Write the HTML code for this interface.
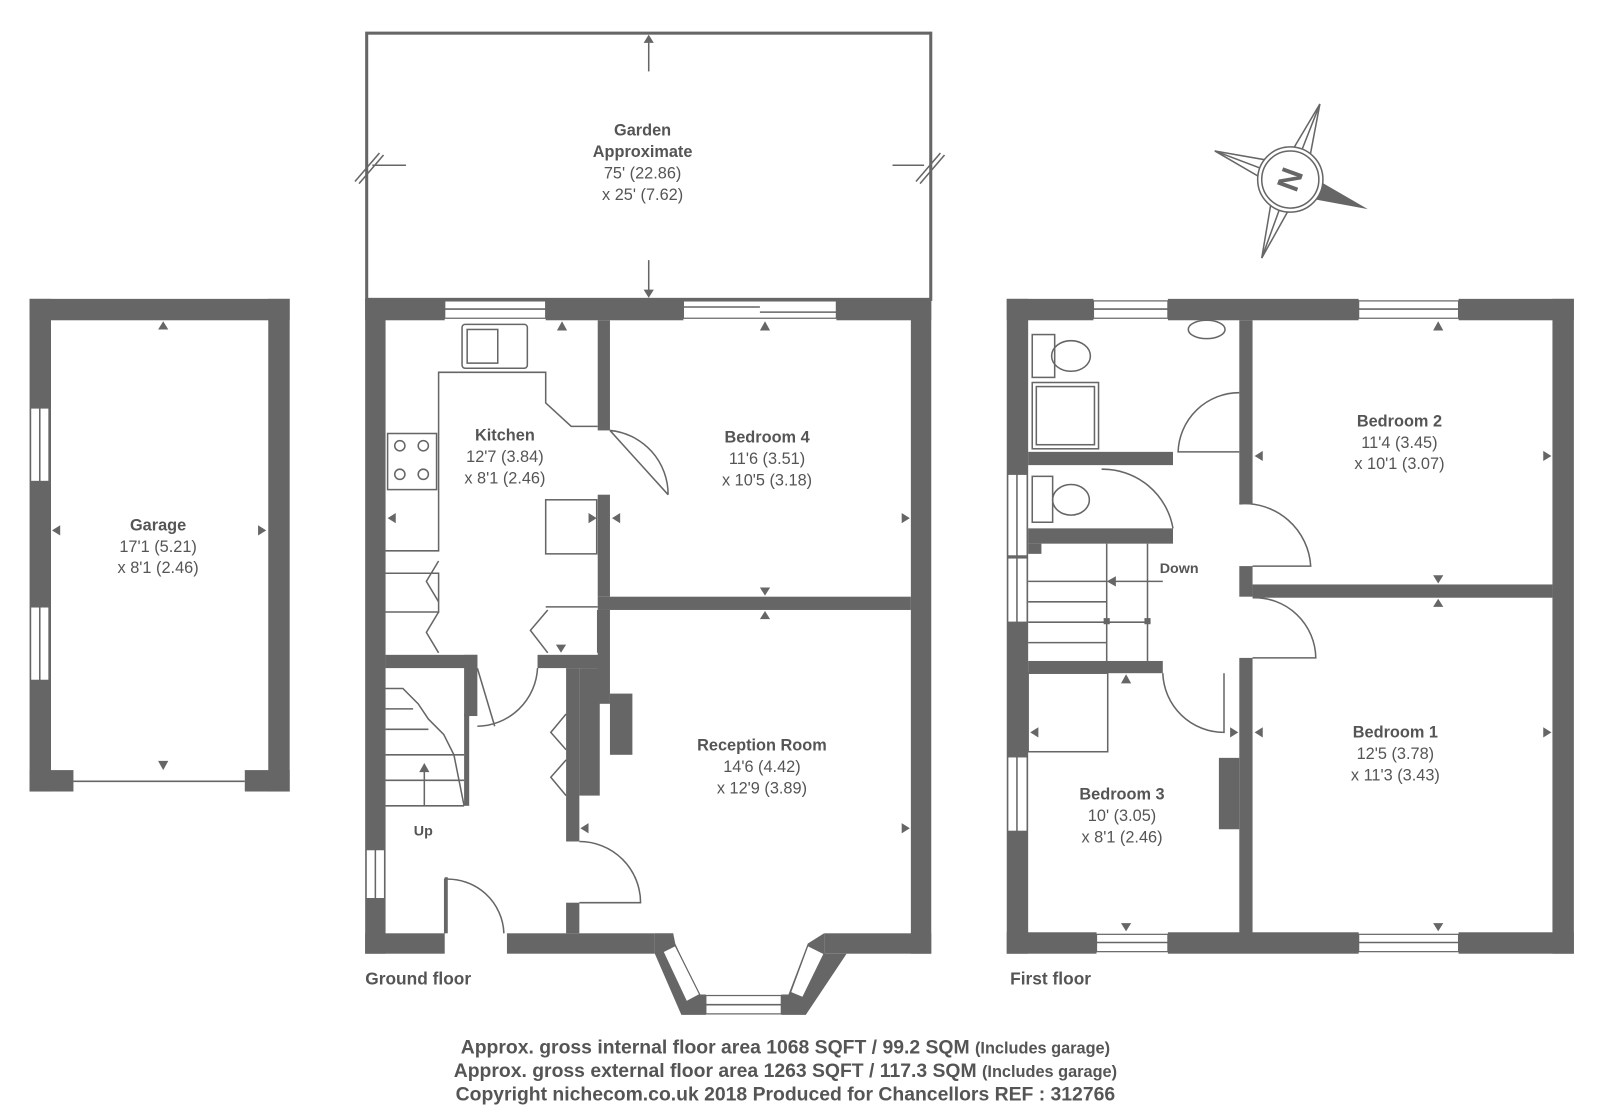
<!DOCTYPE html>
<html><head><meta charset="utf-8"><style>
html,body{margin:0;padding:0;background:#fff;}
svg{display:block}
text{font-family:"Liberation Sans",sans-serif;fill:#555;text-anchor:middle}
.t{font-weight:bold;font-size:16px}
.d{font-size:16px}
.w{fill:#666}
.l{stroke:#666;fill:none;stroke-width:1.5}
.win{fill:#fff;stroke:#666;stroke-width:1.2}
.a{fill:#666}
</style></head><body>
<svg width="1600" height="1116" viewBox="0 0 1600 1116">
<g transform="scale(1.02)">
<!-- Garden -->
<rect x="359.5" y="32.5" width="553" height="261" fill="none" stroke="#666" stroke-width="3"/>
<line x1="636" y1="40" x2="636" y2="70" class="l"/><polygon class="a" points="636,34 631,42 641,42"/>
<line x1="636" y1="255" x2="636" y2="285" class="l"/><polygon class="a" points="636,292 631,284 641,284"/>
<line x1="365" y1="162" x2="398" y2="162" class="l"/>
<line x1="875" y1="162" x2="906" y2="162" class="l"/>
<line x1="348" y1="178" x2="372" y2="150" class="l"/><line x1="352" y1="180" x2="376" y2="152" class="l"/>
<line x1="898" y1="178" x2="922" y2="150" class="l"/><line x1="902" y1="180" x2="926" y2="152" class="l"/>
<text class="t" x="630" y="133">Garden</text>
<text class="t" x="630" y="154">Approximate</text>
<text class="d" x="630" y="175">75' (22.86)</text>
<text class="d" x="630" y="196">x 25' (7.62)</text>

<!-- Garage -->
<rect class="w" x="29" y="293" width="255" height="21"/>
<rect class="w" x="29" y="293" width="21" height="483"/>
<rect class="w" x="263" y="293" width="21" height="483"/>
<rect class="w" x="29" y="755" width="43" height="21"/>
<rect class="w" x="240" y="755" width="44" height="21"/>
<rect class="win" x="30" y="400" width="18" height="72"/><line x1="39" y1="400" x2="39" y2="472" class="l"/>
<rect class="win" x="30" y="595" width="18" height="72"/><line x1="39" y1="595" x2="39" y2="667" class="l"/>
<line x1="72" y1="766" x2="240" y2="766" class="l"/>
<polygon class="a" points="160,315 155,323 165,323"/><polygon class="a" points="160,755 155,746 165,746"/>
<polygon class="a" points="51,520 59,515 59,525"/><polygon class="a" points="261,520 253,515 253,525"/>
<text class="t" x="155" y="520">Garage</text>
<text class="d" x="155" y="541">17'1 (5.21)</text>
<text class="d" x="155" y="562">x 8'1 (2.46)</text>

<!-- Ground floor outer walls -->
<rect class="w" x="358" y="293" width="78" height="21"/>
<rect class="win" x="436" y="295" width="99" height="17"/><line x1="436" y1="303" x2="535" y2="303" class="l"/>
<rect class="w" x="535" y="293" width="135" height="21"/>
<rect class="win" x="670" y="295" width="150" height="17"/><line x1="670" y1="301" x2="745" y2="301" class="l"/><line x1="745" y1="306" x2="820" y2="306" class="l"/>
<rect class="w" x="820" y="293" width="93" height="21"/>
<rect class="w" x="358" y="293" width="20" height="642"/>
<rect class="win" x="359" y="833" width="18" height="48"/><line x1="368" y1="833" x2="368" y2="881" class="l"/>
<rect class="w" x="893" y="293" width="20" height="642"/>
<rect class="w" x="358" y="915" width="78" height="20"/>
<rect class="w" x="497" y="915" width="145" height="20"/>
<rect class="w" x="808" y="915" width="105" height="20"/>
<!-- bay -->
<polygon class="w" points="642,915 642,935 668,995 692,995 692,975 685,975 662,925 660,915"/>
<rect class="win" x="692" y="976" width="74" height="18"/><line x1="692" y1="985" x2="766" y2="985" class="l"/>
<polygon class="w" points="766,975 766,995 790,995 830,935 808,935 808,915 792,925 773,975"/>
<polygon class="win" points="650,933 662,927 686,975 673,982"/>
<polygon class="win" points="792,927 808,935 787,978 775,973"/>
<!-- front door -->
<path d="M436,915 L436,862 A55,55 0 0 1 494,915" class="l"/>
<rect class="w" x="436" y="860" width="3" height="55"/>
<!-- interior walls GF -->
<rect class="w" x="586" y="314" width="12" height="108"/>
<rect class="w" x="586" y="485" width="12" height="100"/>
<rect class="w" x="586" y="585" width="307" height="13"/>
<rect class="w" x="586" y="598" width="12" height="92"/>
<rect class="w" x="598" y="680" width="22" height="60"/>
<rect class="w" x="568" y="655" width="20" height="125"/>
<rect class="w" x="555" y="655" width="13" height="170"/>
<rect class="w" x="555" y="885" width="13" height="30"/>
<rect class="w" x="527" y="642" width="60" height="13"/>
<rect class="w" x="378" y="642" width="90" height="13"/>
<rect class="w" x="455" y="642" width="13" height="60"/>
<rect class="w" x="455" y="700" width="5" height="90"/>
<!-- doors GF -->
<path d="M598,422 L655,485 M598,422 A63,63 0 0 1 655,485" class="l"/>
<path d="M568,825 A60,60 0 0 1 628,885 L568,885" class="l"/>
<path d="M527,655 A60,60 0 0 1 468,712" class="l"/><line x1="468" y1="655" x2="485" y2="712" class="l"/>
<!-- kitchen units -->
<polyline points="378,540 430,540 430,365 535,365 535,395 560,418 586,418" class="l"/>
<rect x="380" y="425" width="48" height="55" class="l"/>
<circle cx="392" cy="437" r="5" class="l"/><circle cx="415" cy="437" r="5" class="l"/>
<circle cx="392" cy="465" r="5" class="l"/><circle cx="415" cy="465" r="5" class="l"/>
<rect x="453" y="318" width="64" height="43" rx="3" class="l"/><rect x="458" y="323" width="30" height="33" class="l"/>
<rect x="535" y="490" width="50" height="53" class="l"/>
<!-- cupboards -->
<polyline points="378,562 430,562 430,600 378,600" class="l"/>
<path d="M430,550 L418,570 L430,590 M430,600 L418,620 L430,640" class="l"/>
<path d="M535,595 L586,595 M537,598 L520,618 L537,640 M586,598 L586,640" class="l"/>
<path d="M555,700 L540,718 L555,735 M555,745 L540,762 L555,780" class="l"/>
<!-- stairs -->
<polyline points="378,675 395,675 410,690 420,705 435,720 445,740 455,790" class="l"/>
<line x1="378" y1="695" x2="405" y2="695" class="l"/><line x1="378" y1="715" x2="420" y2="715" class="l"/>
<line x1="378" y1="740" x2="455" y2="740" class="l"/><line x1="378" y1="765" x2="455" y2="765" class="l"/>
<line x1="378" y1="790" x2="455" y2="790" class="l"/>
<line x1="416" y1="755" x2="416" y2="790" class="l"/><polygon class="a" points="416,748 411,757 421,757"/>
<text class="t" x="415" y="819" style="font-size:14px">Up</text>
<!-- arrows GF -->
<polygon class="a" points="551,315 546,324 556,324"/>
<polygon class="a" points="750,315 745,324 755,324"/>
<polygon class="a" points="750,584 745,576 755,576"/><polygon class="a" points="750,599 745,607 755,607"/>
<polygon class="a" points="380,508 388,503 388,513"/><polygon class="a" points="585,508 577,503 577,513"/>
<polygon class="a" points="600,508 608,503 608,513"/><polygon class="a" points="892,508 884,503 884,513"/>
<polygon class="a" points="550,640 545,632 555,632"/>
<polygon class="a" points="569,812 577,807 577,817"/><polygon class="a" points="892,812 884,807 884,817"/>
<text class="t" x="495" y="432">Kitchen</text>
<text class="d" x="495" y="453">12'7 (3.84)</text>
<text class="d" x="495" y="474">x 8'1 (2.46)</text>
<text class="t" x="752" y="434">Bedroom 4</text>
<text class="d" x="752" y="455">11'6 (3.51)</text>
<text class="d" x="752" y="476">x 10'5 (3.18)</text>
<text class="t" x="747" y="736">Reception Room</text>
<text class="d" x="747" y="757">14'6 (4.42)</text>
<text class="d" x="747" y="778">x 12'9 (3.89)</text>
<text class="t" x="410" y="965" style="font-size:17px">Ground floor</text>

<!-- First floor -->
<rect class="w" x="987" y="293" width="85" height="21"/>
<rect class="win" x="1072" y="295" width="73" height="17"/><line x1="1072" y1="303" x2="1145" y2="303" class="l"/>
<rect class="w" x="1145" y="293" width="187" height="21"/>
<rect class="win" x="1332" y="295" width="98" height="17"/><line x1="1332" y1="303" x2="1430" y2="303" class="l"/>
<rect class="w" x="1430" y="293" width="113" height="21"/>
<rect class="w" x="987" y="293" width="21" height="642"/>
<rect class="win" x="988" y="465" width="19" height="80"/><line x1="997" y1="465" x2="997" y2="545" class="l"/>
<rect class="win" x="988" y="547" width="19" height="63"/><line x1="997" y1="547" x2="997" y2="610" class="l"/>
<rect class="win" x="988" y="742" width="19" height="73"/><line x1="997" y1="742" x2="997" y2="815" class="l"/>
<rect class="w" x="1522" y="293" width="21" height="642"/>
<rect class="w" x="987" y="914" width="88" height="21"/>
<rect class="win" x="1075" y="916" width="70" height="17"/><line x1="1075" y1="924" x2="1145" y2="924" class="l"/>
<rect class="w" x="1145" y="914" width="187" height="21"/>
<rect class="win" x="1332" y="916" width="98" height="17"/><line x1="1332" y1="924" x2="1430" y2="924" class="l"/>
<rect class="w" x="1430" y="914" width="113" height="21"/>
<!-- interior FF -->
<rect class="w" x="1215" y="314" width="13" height="180"/>
<rect class="w" x="1215" y="555" width="13" height="30"/>
<rect class="w" x="1228" y="573" width="294" height="13"/>
<rect class="w" x="1215" y="645" width="13" height="270"/>
<rect class="w" x="1195" y="743" width="20" height="70"/>
<rect class="w" x="1008" y="443" width="142" height="13"/>
<rect class="w" x="1008" y="518" width="142" height="15"/>
<rect class="w" x="1008" y="648" width="132" height="12"/>
<rect class="w" x="1008" y="533" width="13" height="10"/>
<!-- doors FF -->
<path d="M1215,494 A65,65 0 0 1 1285,555 L1228,555" class="l"/>
<path d="M1228,586 A60,60 0 0 1 1290,645 L1228,645" class="l"/>
<path d="M1215,385 A60,60 0 0 0 1155,443 L1215,443" class="l"/>
<path d="M1150,518 A70,70 0 0 0 1080,460" class="l"/>
<path d="M1200,660 L1200,718 A60,60 0 0 1 1140,660" class="l"/>
<!-- bathroom fixtures -->
<rect x="1012" y="328" width="22" height="42" class="l"/><ellipse cx="1050" cy="349" rx="19" ry="15" class="l"/>
<rect x="1012" y="375" width="65" height="65" class="l"/><rect x="1016" y="379" width="57" height="57" class="l"/>
<ellipse cx="1183" cy="323" rx="18" ry="9" class="l"/>
<rect x="1012" y="467" width="20" height="45" class="l"/><ellipse cx="1050" cy="490" rx="18" ry="15" class="l"/>
<!-- stairs FF -->
<line x1="1085" y1="533" x2="1085" y2="648" class="l"/><line x1="1125" y1="533" x2="1125" y2="648" class="l"/>
<line x1="1008" y1="570" x2="1085" y2="570" class="l"/><line x1="1008" y1="590" x2="1085" y2="590" class="l"/>
<line x1="1008" y1="610" x2="1125" y2="610" class="l"/><line x1="1008" y1="630" x2="1085" y2="630" class="l"/>
<line x1="1090" y1="570" x2="1140" y2="570" class="l"/><polygon class="a" points="1085,570 1094,565 1094,575"/>
<rect x="1082" y="606" width="6" height="6" class="a"/><rect x="1122" y="606" width="6" height="6" class="a"/>
<text class="t" x="1156" y="562" style="font-size:14px">Down</text>
<rect x="1008" y="660" width="78" height="77" class="l"/>
<!-- arrows FF -->
<polygon class="a" points="1410,315 1405,324 1415,324"/>
<polygon class="a" points="1410,572 1405,564 1415,564"/><polygon class="a" points="1410,587 1405,595 1415,595"/>
<polygon class="a" points="1230,447 1238,442 1238,452"/><polygon class="a" points="1521,447 1513,442 1513,452"/>
<polygon class="a" points="1230,718 1238,713 1238,723"/><polygon class="a" points="1521,718 1513,713 1513,723"/>
<polygon class="a" points="1010,718 1018,713 1018,723"/><polygon class="a" points="1214,718 1206,713 1206,723"/>
<polygon class="a" points="1104,661 1099,670 1109,670"/><polygon class="a" points="1104,913 1099,905 1109,905"/>
<polygon class="a" points="1410,913 1405,905 1415,905"/>
<text class="t" x="1372" y="418">Bedroom 2</text>
<text class="d" x="1372" y="439">11'4 (3.45)</text>
<text class="d" x="1372" y="460">x 10'1 (3.07)</text>
<text class="t" x="1368" y="723">Bedroom 1</text>
<text class="d" x="1368" y="744">12'5 (3.78)</text>
<text class="d" x="1368" y="765">x 11'3 (3.43)</text>
<text class="t" x="1100" y="784">Bedroom 3</text>
<text class="d" x="1100" y="805">10' (3.05)</text>
<text class="d" x="1100" y="826">x 8'1 (2.46)</text>
<text class="t" x="1030" y="965" style="font-size:17px">First floor</text>

<!-- compass -->
<g transform="translate(1265,176)">
<polygon points="-74,-28 0,-15 0,15" fill="#fff" stroke="#666" stroke-width="1.5"/>
<line x1="-74" y1="-28" x2="0" y2="0" class="l"/>
<polygon points="29,-74 15,0 -15,0" fill="#fff" stroke="#666" stroke-width="1.5"/>
<line x1="29" y1="-74" x2="0" y2="0" class="l"/>
<polygon points="-28,77 -15,0 15,0" fill="#fff" stroke="#666" stroke-width="1.5"/>
<line x1="-28" y1="77" x2="0" y2="0" class="l"/>
<polygon points="76,29 0,15 0,-15" fill="#666"/>
<circle r="32" fill="#fff" stroke="#666" stroke-width="1.5"/>
<circle r="28" fill="#fff" stroke="#666" stroke-width="1.5"/>
<text x="0" y="10" transform="rotate(-70)" style="fill:#666;font-weight:bold;font-size:30px">N</text>
</g>

<text class="t" x="770" y="1033" style="font-size:19px">Approx. gross internal floor area 1068 SQFT / 99.2 SQM <tspan style="font-size:16px">(Includes garage)</tspan></text>
<text class="t" x="770" y="1056" style="font-size:19px">Approx. gross external floor area 1263 SQFT / 117.3 SQM <tspan style="font-size:16px">(Includes garage)</tspan></text>
<text class="t" x="770" y="1079" style="font-size:19px">Copyright nichecom.co.uk 2018 Produced for Chancellors REF : 312766</text>
</g>
</svg>
</body></html>
